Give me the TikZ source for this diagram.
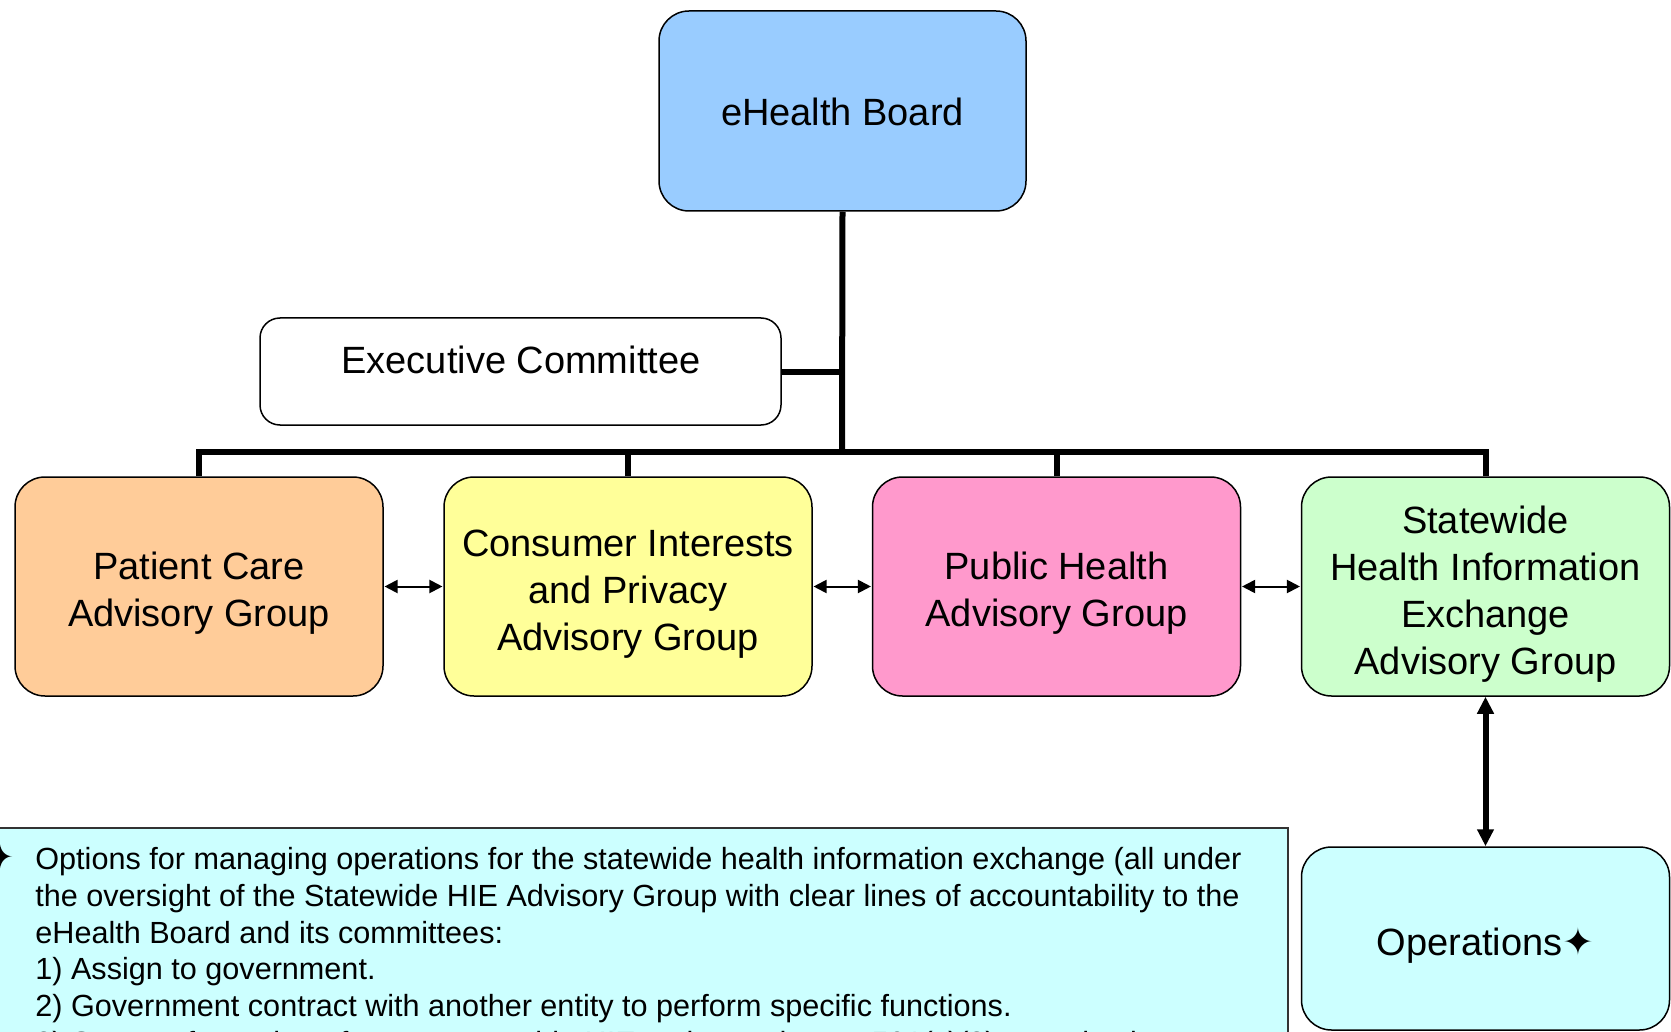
\documentclass[tikz,border=0pt]{standalone}
\usepackage{fontspec}
\setmainfont{Liberation Sans}
\newfontfamily\symfont{DejaVu Sans}
\usetikzlibrary{arrows.meta}
\definecolor{boardblue}{HTML}{99CCFF}
\definecolor{pcorange}{HTML}{FFCC99}
\definecolor{ciyellow}{HTML}{FFFF99}
\definecolor{phpink}{HTML}{FF99CC}
\definecolor{shiegreen}{HTML}{CCFFCC}
\definecolor{opscyan}{HTML}{CCFFFF}
\tikzset{
  orgbox/.style={draw=black, line width=0.75pt, rounded corners=15pt,
    minimum width=184pt, minimum height=109.5pt, inner sep=0pt},
  boxtext/.style={align=center, font=\fontsize{19pt}{23.5pt}\selectfont, inner sep=0pt},
  trunkline/.style={line width=3pt},
  sidearrow/.style={line width=1pt, {Triangle[length=6.5pt,width=6.5pt]}-{Triangle[length=6.5pt,width=6.5pt]}, shorten <=0.4pt, shorten >=0.4pt},
  opsarrow/.style={line width=3pt, {Triangle[length=8.5pt,width=8pt]}-{Triangle[length=8.5pt,width=8pt]}},
}
\begin{document}
\begin{tikzpicture}[x=0.5pt,y=-0.5pt]
\useasboundingbox (0,0) rectangle (1671,1032);
\clip (0,0) rectangle (1671,1032);

% boxes
\node[orgbox, fill=boardblue, minimum width=183.5pt, minimum height=100pt] (board) at (842.5,111) {};
\node[boxtext] (boardlabel) at ([yshift=-0.6pt]board.center) {eHealth Board};
\node[orgbox, fill=white, rounded corners=10pt, minimum width=260.5pt, minimum height=53.5pt] (exec) at (520.5,371.5) {};
\node[boxtext] (execlabel) at (521,360) {Executive Committee};

\node[orgbox, fill=pcorange] (pc) at (199,586.5) {};
\node[boxtext] (pclabel) at ([yshift=-3.4pt]pc.center) {Patient Care\\Advisory Group};
\node[orgbox, fill=ciyellow] (ci) at (628,586.5) {};
\node[boxtext] (cilabel) at ([yshift=-3.6pt]ci.center) {Consumer Interests\\and Privacy\\Advisory Group};
\node[orgbox, fill=phpink] (ph) at (1056.5,586.5) {};
\node[boxtext] (phlabel) at ([yshift=-3.4pt]ph.center) {Public Health\\Advisory Group};
\node[orgbox, fill=shiegreen] (shie) at (1485.5,586.5) {};
\node[boxtext] (shielabel) at ([yshift=-3.6pt]shie.center) {Statewide\\Health Information\\Exchange\\Advisory Group};

\node[orgbox, fill=opscyan, minimum height=91.5pt] (ops) at (1485.5,938.5) {};
\node[boxtext] (opslabel) at ([yshift=-3.6pt]ops.center) {Operations{\symfont ✦}};

% options text box
\node[draw=black!80, line width=0.75pt, fill=opscyan, minimum width=646pt, minimum height=120pt, anchor=north west, inner sep=0pt] (optbox) at (-5,827) {};
\node[anchor=north west, inner sep=0pt, align=left, font=\fontsize{15.3pt}{18.4pt}\selectfont] (opttext) at (35,847)
{Options for managing operations for the statewide health information exchange (all under\\
the oversight of the Statewide HIE Advisory Group with clear lines of accountability to the\\
eHealth Board and its committees:\\
1) Assign to government.\\
2) Government contract with another entity to perform specific functions.\\
3) Support formation of a new statewide HIE entity, such as a 501(c)(3) organization.};
\node[inner sep=0pt, font=\symfont\fontsize{16pt}{18pt}\selectfont] (bullet) at (0.5,857) {✦};

% connectors
\coordinate (hub) at (842,452);
\draw[trunkline] (board.south) -- (hub);
\draw[trunkline] (exec.east) -- (exec.east -| hub);
\draw[trunkline, line cap=rect] (pc.north |- hub) -- (shie.north |- hub);
\draw[trunkline] (pc.north) -- (pc.north |- hub);
\draw[trunkline] (ci.north) -- (ci.north |- hub);
\draw[trunkline] (ph.north) -- (ph.north |- hub);
\draw[trunkline] (shie.north) -- (shie.north |- hub);

\draw[sidearrow] (pc.east) -- (ci.west);
\draw[sidearrow] (ci.east) -- (ph.west);
\draw[sidearrow] (ph.east) -- (shie.west);
\draw[opsarrow] (shie.south) -- (ops.north);
\end{tikzpicture}
\end{document}
